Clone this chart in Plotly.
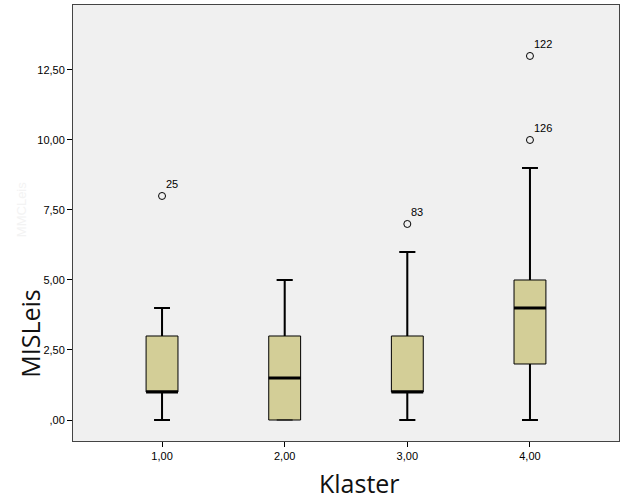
import plotly.graph_objects as go

# Data
clusters = [1, 2, 3, 4]
cluster_labels = ["1,00", "2,00", "3,00", "4,00"]
q1 = [1, 0, 1, 2]
median = [1, 1.5, 1, 4]
q3 = [3, 3, 3, 5]
lower_whisker = [0, 0, 0, 0]
upper_whisker = [4, 5, 6, 9]
outlier_x = [1, 3, 4, 4]
outlier_y = [8, 7, 10, 13]
outlier_ids = ["25", "83", "126", "122"]
y_tickvals = [0, 2.5, 5, 7.5, 10, 12.5]
y_ticktext = [",00", "2,50", "5,00", "7,50", "10,00", "12,50"]

BOX_W = 0.26
CAP_W = 0.13

fig = go.Figure()

fig.add_trace(go.Box(
    x=clusters, q1=q1, median=median, q3=q3,
    lowerfence=lower_whisker, upperfence=upper_whisker,
    width=BOX_W, whiskerwidth=0.5,
    fillcolor="#D3CE97", line=dict(color="black", width=1),
    boxpoints=False, showlegend=False, hoverinfo="skip",
))

# Whiskers (thicker) drawn over the box trace's whiskers
wx, wy = [], []
for c, lo, a, b, hi in zip(clusters, lower_whisker, q1, q3, upper_whisker):
    if lo < a:
        wx += [c, c, None, c - CAP_W / 2, c + CAP_W / 2, None]
        wy += [lo, a, None, lo, lo, None]
    if hi > b:
        wx += [c, c, None, c - CAP_W / 2, c + CAP_W / 2, None]
        wy += [b, hi, None, hi, hi, None]
fig.add_trace(go.Scatter(x=wx, y=wy, mode="lines", line=dict(color="black", width=2),
                         showlegend=False, hoverinfo="skip"))

# Medians (thick)
mx, my = [], []
for c, m in zip(clusters, median):
    mx += [c - BOX_W / 2, c + BOX_W / 2, None]
    my += [m, m, None]
fig.add_trace(go.Scatter(x=mx, y=my, mode="lines", line=dict(color="black", width=3),
                         showlegend=False, hoverinfo="skip"))

# Outliers
fig.add_trace(go.Scatter(
    x=outlier_x, y=outlier_y, mode="markers",
    marker=dict(symbol="circle-open", size=7, color="black", line=dict(width=1)),
    showlegend=False, hoverinfo="skip",
))
for x, y, t in zip(outlier_x, outlier_y, outlier_ids):
    fig.add_annotation(x=x, y=y, text=t, showarrow=False, xanchor="left", yanchor="bottom",
                       xshift=2, yshift=4, font=dict(family="Liberation Sans, Arial", size=11, color="black"))

fig.update_xaxes(
    range=[0.274, 4.726], tickvals=clusters, ticktext=cluster_labels,
    showgrid=False, zeroline=False, showline=True, mirror=True,
    linecolor="#444", linewidth=1, ticks="outside", ticklen=5, tickcolor="black",
    tickfont=dict(family="Liberation Sans, Arial", size=11, color="black"),
)
fig.update_yaxes(
    range=[-0.75, 14.82], tickvals=y_tickvals, ticktext=y_ticktext,
    showgrid=False, zeroline=False, showline=True, mirror=True,
    linecolor="#444", linewidth=1, ticks="outside", ticklen=5, tickcolor="black",
    tickfont=dict(family="Liberation Sans, Arial", size=11, color="black"),
)

# Faint ghost text (behind the axis title)
fig.add_annotation(text="MMCLeis", xref="paper", yref="paper", x=-0.093, y=0.53,
                   xanchor="center", yanchor="middle", showarrow=False, textangle=-90,
                   font=dict(family="Liberation Sans, Arial", size=13, color="#f3f3f3"))

# Axis titles
fig.add_annotation(text="Klaster", xref="paper", yref="paper", x=0.524, y=-0.096,
                   xanchor="center", yanchor="middle", showarrow=False,
                   font=dict(family="Open Sans, Noto Sans", size=25, color="#111"))
fig.add_annotation(text="MISLeis", xref="paper", yref="paper", x=-0.079, y=0.248,
                   xanchor="center", yanchor="middle", showarrow=False, textangle=-90,
                   font=dict(family="Open Sans, Noto Sans", size=25, color="#111"))

fig.update_layout(
    width=626, height=501,
    margin=dict(l=73, r=7, t=5, b=60),
    plot_bgcolor="#F0F0F0", paper_bgcolor="white",
    showlegend=False,
)

fig.write_html("out.html")
